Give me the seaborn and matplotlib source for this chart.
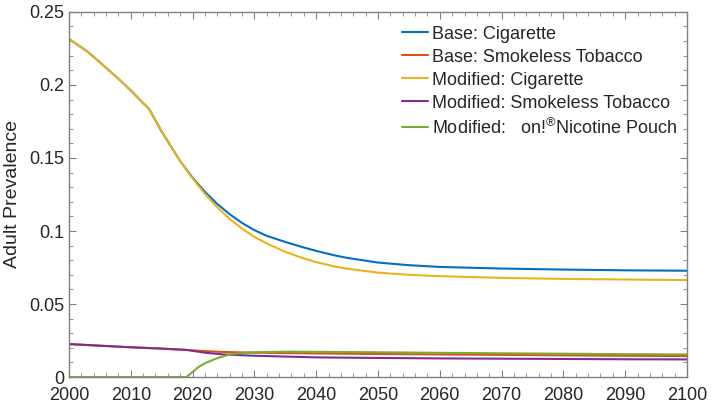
import numpy as np
import pandas as pd
import matplotlib
matplotlib.use("Agg")
import matplotlib.pyplot as plt
from matplotlib.ticker import MultipleLocator
import seaborn as sns

# values
cig_years = [2000, 2003, 2005, 2008, 2010, 2013, 2015, 2018, 2020, 2022, 2024, 2026,
             2028, 2030, 2032, 2035, 2038, 2040, 2043, 2045, 2050, 2055, 2060, 2070,
             2080, 2090, 2100]
base_cig = [0.2315, 0.2228, 0.2155, 0.2042, 0.1962, 0.1833, 0.1680, 0.1478, 0.1365,
            0.1268, 0.1185, 0.1115, 0.1055, 0.1006, 0.0967, 0.0925, 0.0887, 0.0864,
            0.0833, 0.0816, 0.0784, 0.0766, 0.0754, 0.0743, 0.0736, 0.0731, 0.0728]
mod_cig = [0.2315, 0.2228, 0.2155, 0.2042, 0.1962, 0.1833, 0.1680, 0.1478, 0.1360,
           0.1254, 0.1162, 0.1083, 0.1016, 0.0960, 0.0915, 0.0857, 0.0812, 0.0787,
           0.0757, 0.0742, 0.0715, 0.0700, 0.0691, 0.0679, 0.0672, 0.0668, 0.0664]

st_years = [2000, 2005, 2010, 2015, 2019, 2020, 2022, 2025, 2030, 2040, 2050, 2060,
            2070, 2080, 2090, 2100]
base_st = [0.0226, 0.0215, 0.0204, 0.0195, 0.0186, 0.0183, 0.0178, 0.0172, 0.0167,
           0.0162, 0.0158, 0.0155, 0.0152, 0.0149, 0.0146, 0.0144]
mod_st = [0.0226, 0.0215, 0.0204, 0.0195, 0.0186, 0.0180, 0.0167, 0.0155, 0.0146,
          0.0135, 0.0131, 0.0128, 0.0126, 0.0124, 0.0122, 0.0121]

pouch_years = [2000, 2010, 2019, 2020, 2021, 2022, 2024, 2026, 2028, 2030, 2035,
               2040, 2050, 2060, 2070, 2080, 2090, 2100]
pouch = [0.0, 0.0, 0.0, 0.0035, 0.0070, 0.0095, 0.0130, 0.0155, 0.0165, 0.0170,
         0.0174, 0.0173, 0.0170, 0.0166, 0.0163, 0.0160, 0.0157, 0.0155]

labels = ["Base: Cigarette", "Base: Smokeless Tobacco", "Modified: Cigarette",
          "Modified: Smokeless Tobacco", "Modified:   on!$^{\\circledR}$Nicotine Pouch"]
colors = ["#0072BD", "#D95319", "#EDB120", "#7E2F8E", "#77AC30"]

frames = []
for lab, yrs, vals in zip(labels,
                          [cig_years, st_years, cig_years, st_years, pouch_years],
                          [base_cig, base_st, mod_cig, mod_st, pouch]):
    frames.append(pd.DataFrame({"Year": yrs, "Prevalence": vals, "Series": lab}))
df = pd.concat(frames, ignore_index=True)

sns.set_style("ticks")
plt.rcParams["font.family"] = ["Liberation Sans", "DejaVu Sans"]
plt.rcParams["mathtext.fontset"] = "custom"
plt.rcParams["mathtext.rm"] = "Liberation Sans"

fig = plt.figure(figsize=(7.14, 4.09), dpi=100)
ax = fig.add_axes([0.0966, 0.078, 0.8656, 0.893])

sns.lineplot(data=df, x="Year", y="Prevalence", hue="Series", hue_order=labels,
             palette=colors, linewidth=1.5, ax=ax)

ax.set_xlim(2000, 2100)
ax.set_ylim(0, 0.25)
ax.set_xticks(np.arange(2000, 2101, 10))
ax.set_yticks([0, 0.05, 0.1, 0.15, 0.2, 0.25])
ax.set_yticklabels(["0", "0.05", "0.1", "0.15", "0.2", "0.25"])
ax.xaxis.set_minor_locator(MultipleLocator(2))
ax.yaxis.set_minor_locator(MultipleLocator(0.01))
ax.tick_params(which="both", direction="in", top=True, right=True,
               colors="#808080", labelcolor="#262626", labelsize=13)
ax.tick_params(axis="x", which="major", pad=7)
ax.tick_params(which="major", length=5)
ax.tick_params(which="minor", length=3)
for s in ax.spines.values():
    s.set_color("#808080")
    s.set_linewidth(1.0)

ax.set_xlabel("")
ax.set_ylabel("Adult Prevalence", fontsize=14, color="#262626", labelpad=6)

ax.legend(loc="upper left", bbox_to_anchor=(0.539, 0.962), frameon=False,
          fontsize=13, handlelength=1.45, handletextpad=0.2, labelspacing=0.33,
          borderpad=0, borderaxespad=0)

fig.savefig("out.png", dpi=100)
